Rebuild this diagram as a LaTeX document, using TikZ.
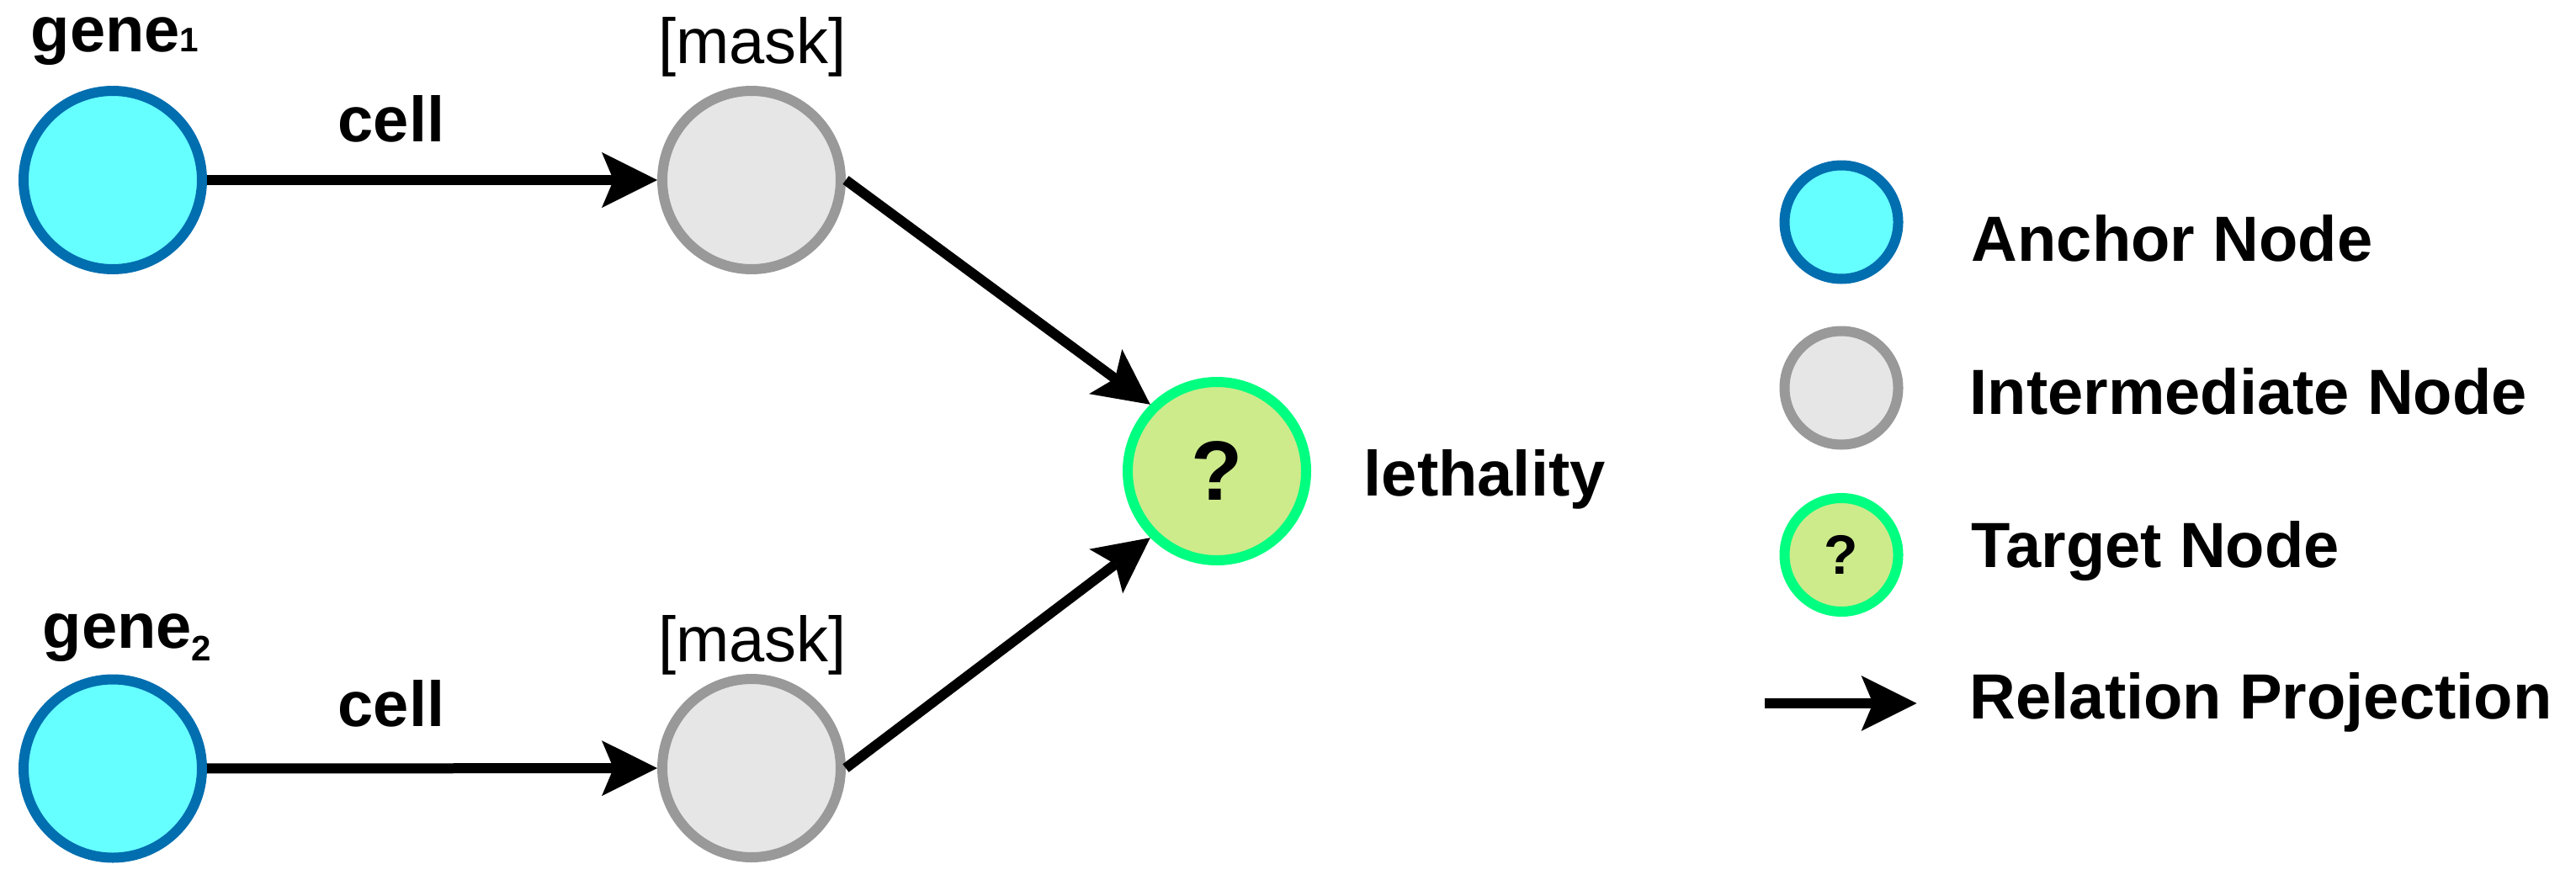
\documentclass[tikz,border=0pt]{standalone}
\usepackage{fontspec}
\setmainfont{Liberation Sans}
\usetikzlibrary{arrows.meta}
\definecolor{anchorfill}{HTML}{66FFFF}
\definecolor{anchorline}{HTML}{006EAF}
\definecolor{midfill}{HTML}{E6E6E6}
\definecolor{midline}{HTML}{999999}
\definecolor{targetfill}{HTML}{CDEB8B}
\definecolor{targetline}{HTML}{00FF80}
\begin{document}
\begin{tikzpicture}[
  anchornode/.style={circle,draw=anchorline,fill=anchorfill,line width=0.12cm,inner sep=0pt,minimum size=#1},
  midnode/.style={circle,draw=midline,fill=midfill,line width=0.12cm,inner sep=0pt,minimum size=#1},
  targetnode/.style={circle,draw=targetline,fill=targetfill,line width=0.12cm,inner sep=0pt,minimum size=#1},
  rel/.style={line width=0.12cm,-{Stealth[length=0.66cm,width=0.66cm,inset=0.14cm,line width=0pt]}},
  txt/.style={inner sep=0pt,font=\fontsize{21.6}{26}\selectfont\bfseries},
  plain/.style={inner sep=0pt,font=\fontsize{21.6}{26}\selectfont}
]
  \useasboundingbox (0,0) rectangle (30.61,-10.45);
  % Nodes
  \node[anchornode=2.12cm] (g1) at (1.34,-2.14) {};
  \node[anchornode=2.12cm] (g2) at (1.34,-9.135) {};
  \node[midnode=2.12cm] (m1) at (8.93,-2.14) {};
  \node[midnode=2.12cm] (m2) at (8.93,-9.13) {};
  \node[targetnode=2.12cm,font=\fontsize{28.5}{30}\selectfont\bfseries] (t) at (14.46,-5.60) {?};
  % Labels
  \node[txt,anchor=base west] (g1lab) at (0.36,-0.61) {gene{\fontsize{11.5}{12}\selectfont 1}};
  \node[txt,anchor=base west] (g2lab) at (0.50,-7.70) {gene\raisebox{-0.15cm}{\fontsize{12}{12}\selectfont 2}};
  \node[plain,anchor=base] (m1lab) at (8.94,-0.76) {[mask]};
  \node[plain,anchor=base] (m2lab) at (8.94,-7.86) {[mask]};
  \node[txt,anchor=base] (c1) at (4.65,-1.68) {cell};
  \node[txt,anchor=base] (c2) at (4.65,-8.63) {cell};
  \node[txt,anchor=base west] (tlab) at (16.20,-5.89) {lethality};
  % Relations
  \draw[rel] (g1) -- (m1);
  \draw[rel] (g2) -- (m2);
  \draw[rel] (m1.east) -- (t.north west);
  \draw[rel] (m2.east) -- (t.south west);
  % Legend
  \node[anchornode=1.35cm] (la) at (21.88,-2.64) {};
  \node[midnode=1.35cm] (li) at (21.88,-4.61) {};
  \node[targetnode=1.35cm,font=\fontsize{18.8}{20}\selectfont\bfseries] (lt) at (21.88,-6.595) {?};
  \coordinate (ra) at (20.97,-8.36);
  \coordinate (rb) at (22.776,-8.36);
  \draw[rel] (ra) -- (rb);
  \node[txt,anchor=base west] (latxt) at (23.42,-3.10) {Anchor Node};
  \node[txt,anchor=base west] (litxt) at (23.40,-4.92) {Intermediate Node};
  \node[txt,anchor=base west] (lttxt) at (23.42,-6.74) {Target Node};
  \node[txt,anchor=base west] (lrtxt) at (23.40,-8.54) {Relation Projection};
\end{tikzpicture}
\end{document}
